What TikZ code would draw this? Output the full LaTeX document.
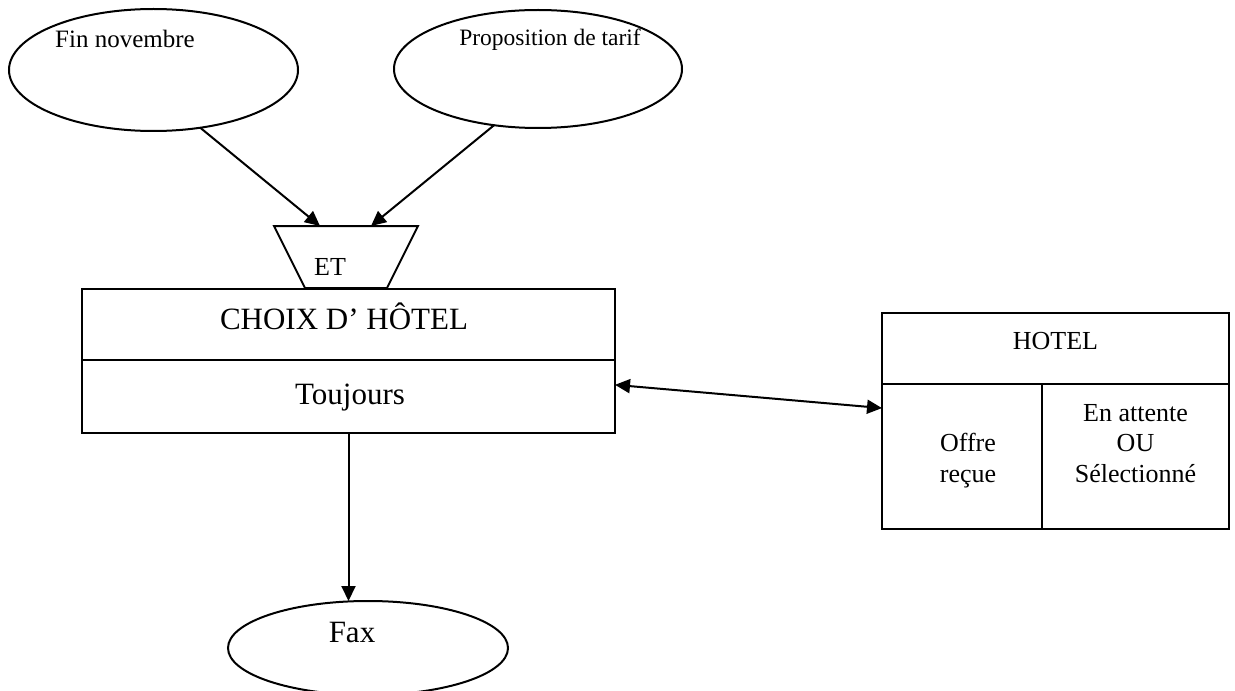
\documentclass[tikz,border=0pt]{standalone}
\usepackage{fontspec}
\setmainfont{Liberation Serif}
\usetikzlibrary{shapes.geometric,arrows.meta,calc}
\begin{document}
\begin{tikzpicture}[x=1bp,y=-1bp,
  line width=2bp,
  oval/.style={draw,ellipse,inner sep=0pt,outer sep=0pt},
  cell/.style={draw,rectangle,inner sep=0pt,outer sep=0pt,anchor=north west},
  tip/.tip={Triangle[length=15bp,width=14bp]},
  arr/.style={-tip},
  darr/.style={tip-tip},
  lbl/.style={inner sep=0pt,anchor=base},
  big/.style={lbl,font=\fontsize{31bp}{36bp}\selectfont},
  mid/.style={lbl,font=\fontsize{26bp}{30bp}\selectfont},
  fin/.style={lbl,font=\fontsize{25bp}{30bp}\selectfont},
  small/.style={lbl,font=\fontsize{23.5bp}{28bp}\selectfont}
]
\useasboundingbox (0,0) rectangle (1235,691);

% top ellipses
\node[oval,minimum width=289bp,minimum height=122bp] (e1) at (153.5,70) {};
\node[oval,minimum width=288bp,minimum height=118bp] (e2) at (538,69) {};
\node[fin] (tfin) at (125,48) {Fin novembre};
\node[small] (tprop) at (550,46) {Proposition de tarif};

% ET trapezoid
\draw (274,226) -- (418,226) -- (387,288) -- (305,288) -- cycle;
\coordinate (etL) at (320,226);
\coordinate (etR) at (371,226);
\node[mid] (tet) at (330,275) {ET};

% choice box
\node[cell,minimum width=533bp,minimum height=71bp] (choixA) at (82,289) {};
\node[cell,minimum width=533bp,minimum height=73bp] (choixB) at (82,360) {};
\node[big] (tchoix) at (344,329) {CHOIX D’ HÔTEL};
\node[big] (ttouj) at (350,404) {Toujours};

% HOTEL box
\node[cell,minimum width=347bp,minimum height=71bp] (hA) at (882,313) {};
\node[cell,minimum width=160bp,minimum height=145bp] (hB) at (882,384) {};
\node[cell,minimum width=187bp,minimum height=145bp] (hC) at (1042,384) {};
\node[mid] (thotel) at (1055.5,349) {HOTEL};
\node[mid] (toffre) at (968,451) {Offre};
\node[mid] (trecue) at (968,482) {reçue};
\node[mid] (tatt) at (1135.5,421) {En attente};
\node[mid] (tou) at (1135.5,451) {OU};
\node[mid] (tsel) at (1135.5,482) {Sélectionné};

% Fax ellipse
\node[oval,minimum width=280bp,minimum height=94bp] (fax) at (368,648) {};
\node[big] (tfax) at (352,642) {Fax};

% connectors
\draw[arr] (e1.-51) -- (etL);
\draw[arr] (e2.-128) -- (etR);
\draw[darr] ($(choixB.north east)!0.34!(choixB.south east)$) -- ($(hB.north west)!0.166!(hB.south west)$);
\draw[arr] (choixB.south) -- (choixB.south |- fax.north);
\end{tikzpicture}
\end{document}
